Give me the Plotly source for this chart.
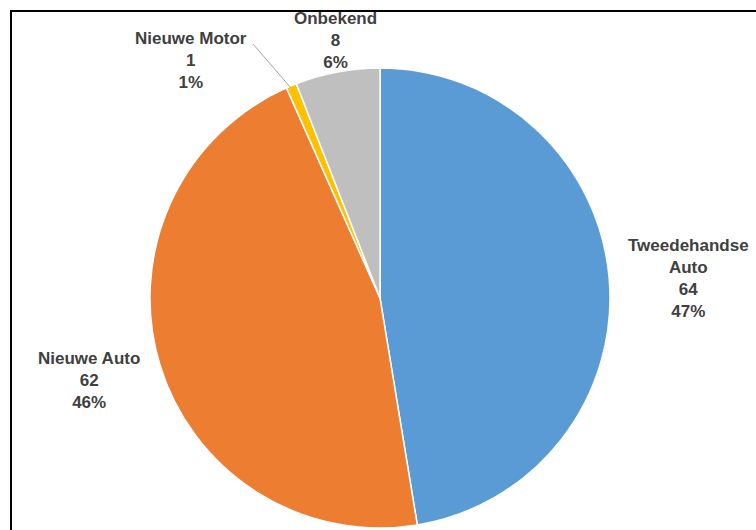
import plotly.graph_objects as go

categories = ["Tweedehandse Auto", "Nieuwe Auto", "Nieuwe Motor", "Onbekend"]
display_names = ["Tweedehandse<br>Auto", "Nieuwe Auto", "Nieuwe Motor", "Onbekend"]
values = [64, 62, 1, 8]
colors = ["#5B9BD5", "#ED7D31", "#FFC000", "#BFBFBF"]

W, H = 756, 530
total = sum(values)

def px(x):
    return x / W

def py(y):
    return 1 - y / H

cx, cy, r = 380, 298, 230

fig = go.Figure(go.Pie(
    labels=categories,
    values=values,
    marker=dict(colors=colors, line=dict(color="white", width=1.5)),
    sort=False,
    direction="clockwise",
    rotation=0,
    textinfo="none",
    hoverinfo="label+value+percent",
    showlegend=False,
    domain=dict(x=[px(cx - r), px(cx + r)], y=[py(cy + r), py(cy - r)]),
))

# label anchor positions (pixel centres of the text blocks)
label_pos = [(688, 278), (89, 380), (191, 61), (335, 41)]
annotations = []
for name, v, (lx, ly) in zip(display_names, values, label_pos):
    pct = round(100 * v / total)
    annotations.append(dict(
        x=px(lx), y=py(ly), xref="paper", yref="paper",
        text=f"<b>{name}<br>{v}<br>{pct}%</b>",
        showarrow=False, xanchor="center", yanchor="middle",
        font=dict(family="Liberation Sans, Arial", size=17, color="#404040"),
        align="center",
    ))

shapes = [
    dict(type="rect", xref="paper", yref="paper", layer="below",
         x0=px(11), y0=py(11), x1=px(800), y1=py(600),
         line=dict(color="black", width=2), fillcolor="rgba(0,0,0,0)"),
    dict(type="line", xref="paper", yref="paper",
         x0=px(253), y0=py(44), x1=px(291), y1=py(88),
         line=dict(color="#A6A6A6", width=1)),
]

fig.update_layout(
    width=W, height=H,
    margin=dict(l=0, r=0, t=0, b=0),
    paper_bgcolor="white",
    plot_bgcolor="white",
    annotations=annotations,
    shapes=shapes,
)

fig.write_html(
    "out.html",
    config={"displayModeBar": False},
    post_script="document.body.style.margin='0';"
                "document.documentElement.style.overflow='hidden';"
                "document.body.style.overflow='hidden';",
)
